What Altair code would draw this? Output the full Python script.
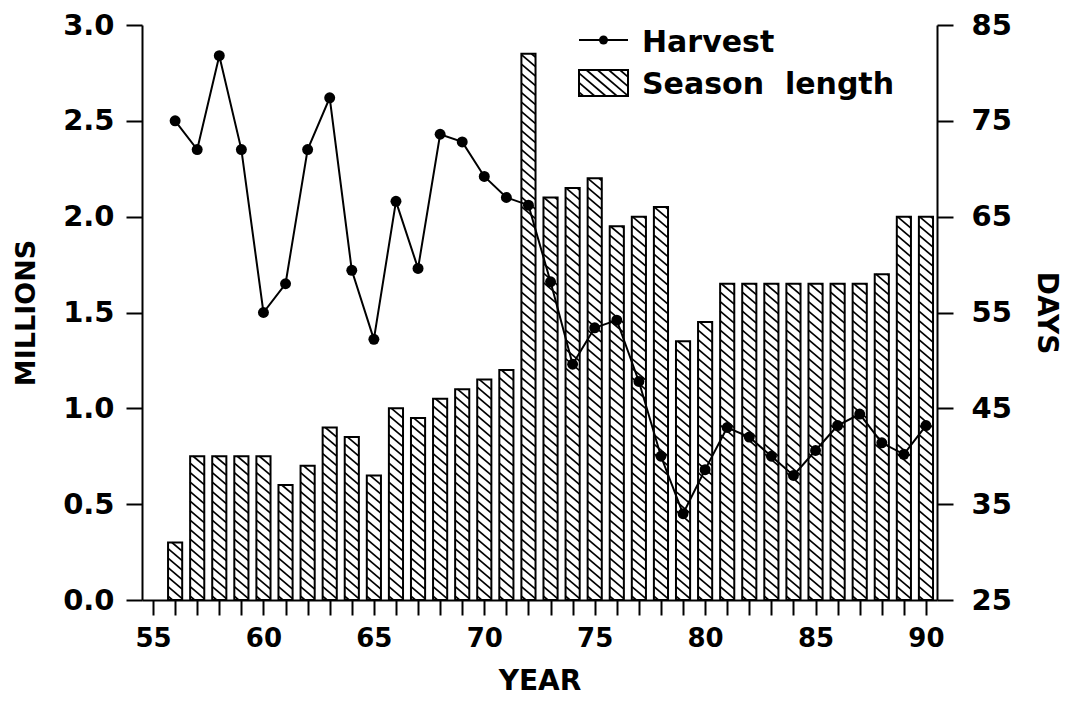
import altair as alt
import pandas as pd

# ---------------- data ----------------
years = list(range(56, 91))
harvest_millions = [2.50, 2.35, 2.84, 2.35, 1.50, 1.65, 2.35, 2.62, 1.72, 1.36,
                    2.08, 1.73, 2.43, 2.39, 2.21, 2.10, 2.06, 1.66, 1.23, 1.42,
                    1.46, 1.14, 0.75, 0.45, 0.68, 0.90, 0.85, 0.75, 0.65, 0.78,
                    0.91, 0.97, 0.82, 0.76, 0.91]
season_days = [31, 40, 40, 40, 40, 37, 39, 43, 42, 38,
               45, 44, 46, 47, 48, 49, 82, 67, 68, 69,
               64, 65, 66, 52, 54, 58, 58, 58, 58, 58,
               58, 58, 59, 65, 65]
x_ticks = list(range(55, 91))
left_ticks = [0.0, 0.5, 1.0, 1.5, 2.0, 2.5, 3.0]
right_ticks = [25, 35, 45, 55, 65, 75, 85]
legend_labels = ["Harvest", "Season\u00a0 length"]

# ---------------- geometry / style ----------------
W, H = 795, 575
X_DOM = [54.5, 90.5]
M_DOM = [0, 3]
D_DOM = [25, 85]
PX_PER_YEAR = W / (X_DOM[1] - X_DOM[0])
PX_PER_DAY = H / (D_DOM[1] - D_DOM[0])
BAR_HALF = 0.32
HATCH_SLOPE = 0.85
HATCH_GAP = 9.5
FONT = "DejaVu Sans"


def hatch_segments(w, h, slope, gap):
    segs = []
    c = h - gap * 0.4
    while c > -slope * w:
        u0 = max(0.0, -c / slope)
        u1 = min(w, (h - c) / slope)
        if u1 - u0 > 0.8:
            segs.append((u0, c + slope * u0, u1, c + slope * u1))
        c -= gap
    return segs


df = pd.DataFrame({"year": years, "harvest": harvest_millions, "season": season_days})
df["bx1"] = df["year"] - BAR_HALF
df["bx2"] = df["year"] + BAR_HALF

rows = []
for yr, d in zip(years, season_days):
    w = 2 * BAR_HALF * PX_PER_YEAR
    h = (d - D_DOM[0]) * PX_PER_DAY
    for u0, v0, u1, v1 in hatch_segments(w, h, HATCH_SLOPE, HATCH_GAP):
        rows.append({
            "hx1": yr - BAR_HALF + u0 / PX_PER_YEAR,
            "hx2": yr - BAR_HALF + u1 / PX_PER_YEAR,
            "hy1": d - v0 / PX_PER_DAY,
            "hy2": d - v1 / PX_PER_DAY,
        })
hatch_df = pd.DataFrame(rows)

xscale = alt.Scale(domain=X_DOM, nice=False, zero=False)
xaxis = alt.Axis(values=x_ticks, format="d",
                 labelExpr="datum.value % 5 === 0 ? datum.label : ''",
                 title="YEAR", tickSize=15, labelPadding=10, labelFontSize=26,
                 titleFontSize=28, titleX=W / 2, titleY=89, titleAlign="center",
                 titleBaseline="alphabetic", labelFlush=False, labelOverlap=False)
left_axis = alt.Axis(values=left_ticks, format=".1f", orient="left", title="MILLIONS",
                     tickSize=16, labelPadding=12, labelFontSize=29, titleFontSize=27,
                     titleAngle=-90, titleX=-116, titleY=H / 2, titleAlign="center",
                     titleBaseline="middle", labelFlush=False)
right_axis = alt.Axis(values=right_ticks, format="d", orient="right", title="DAYS",
                      tickSize=16, labelPadding=18, labelFontSize=29, titleFontSize=28,
                      titleAngle=90, titleX=108, titleY=H / 2, titleAlign="center",
                      titleBaseline="middle", labelFlush=False)


def X(field):
    return alt.X(field, type="quantitative", scale=xscale, axis=xaxis)


dscale = alt.Scale(domain=D_DOM, nice=False, zero=False)
mscale = alt.Scale(domain=M_DOM, nice=False, zero=False)

bars = alt.Chart(df).mark_rect(fill="white", stroke="black", strokeWidth=2).encode(
    x=X("bx1"), x2="bx2",
    y=alt.Y("season:Q", scale=dscale, axis=right_axis),
    y2=alt.datum(D_DOM[0]),
)
hatch = alt.Chart(hatch_df).mark_rule(color="black", strokeWidth=1.7).encode(
    x=X("hx1"), x2="hx2",
    y=alt.Y("hy1:Q", scale=dscale, axis=None), y2="hy2",
)
line = alt.Chart(df).mark_line(color="black", strokeWidth=2).encode(
    x=X("year"),
    y=alt.Y("harvest:Q", scale=mscale, axis=left_axis),
)
points = alt.Chart(df).mark_circle(color="black", opacity=1, size=120).encode(
    x=X("year"),
    y=alt.Y("harvest:Q", scale=mscale, axis=None),
)

# ---------------- manual legend ----------------
one = alt.Data(values=[{}])
LX0, LX1 = 437, 486
leg = [
    alt.Chart(one).mark_rule(color="black", strokeWidth=2).encode(
        x=alt.value(LX0), x2=alt.value(LX1), y=alt.value(15)),
    alt.Chart(one).mark_circle(color="black", opacity=1, size=80).encode(
        x=alt.value((LX0 + LX1) / 2), y=alt.value(15)),
    alt.Chart(one).mark_rect(fill="white", stroke="black", strokeWidth=2).encode(
        x=alt.value(LX0), x2=alt.value(LX1), y=alt.value(45), y2=alt.value(71)),
]
for u0, v0, u1, v1 in hatch_segments(LX1 - LX0, 26, HATCH_SLOPE, HATCH_GAP):
    leg.append(alt.Chart(one).mark_rule(color="black", strokeWidth=1.7).encode(
        x=alt.value(LX0 + u0), x2=alt.value(LX0 + u1),
        y=alt.value(45 + v0), y2=alt.value(45 + v1)))
for lab, yb in zip(legend_labels, [27, 69]):
    leg.append(alt.Chart(one).mark_text(align="left", baseline="alphabetic", font=FONT,
                                        fontWeight="bold", fontSize=30, color="black").encode(
        x=alt.value(500), y=alt.value(yb), text=alt.value(lab)))

chart = alt.layer(bars, hatch, line, points, *leg).resolve_scale(y="independent").properties(
    width=W, height=H,
    padding={"left": 134, "top": 17, "right": 126, "bottom": 98},
    autosize=alt.AutoSizeParams(type="none"),
    background="white",
).configure_view(stroke=None).configure_axis(
    grid=False, domainColor="black", domainWidth=2, tickColor="black", tickWidth=2,
    labelColor="black", labelFont=FONT, labelFontWeight="bold",
    titleColor="black", titleFont=FONT, titleFontWeight="bold",
)

chart.save("out.html", embed_options={"renderer": "svg", "actions": False})
